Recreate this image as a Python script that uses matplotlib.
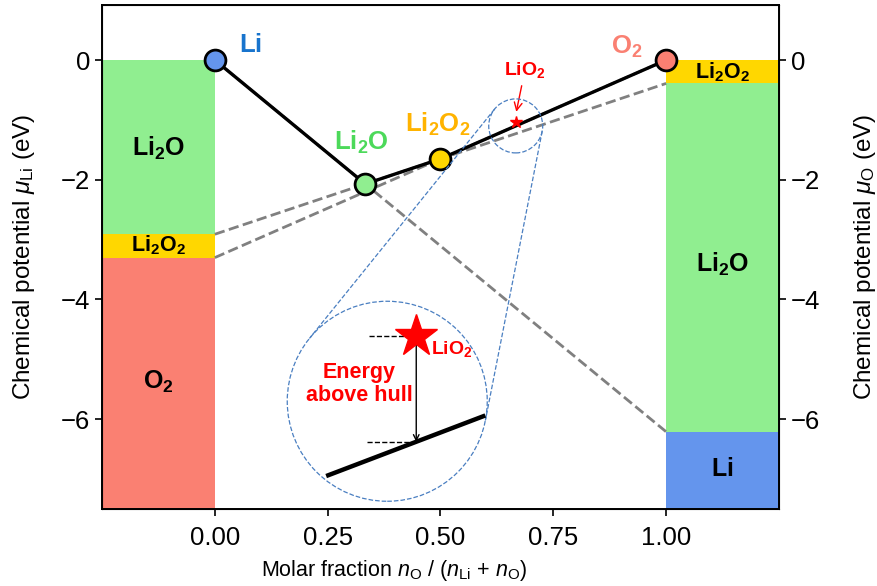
import numpy as np
import matplotlib
matplotlib.use('Agg')
import matplotlib.pyplot as plt
from matplotlib.patches import Circle

plt.rcParams['font.family'] = ['Liberation Sans', 'DejaVu Sans']
plt.rcParams['mathtext.fontset'] = 'custom'
plt.rcParams['mathtext.rm'] = 'Liberation Sans'
plt.rcParams['mathtext.it'] = 'Liberation Sans:italic'
plt.rcParams['mathtext.bf'] = 'Liberation Sans:bold'
plt.rcParams['axes.unicode_minus'] = True

# --- data: Li-O convex hull (formation energy, eV/atom) ---
phases = [r'$\mathbf{Li}$', r'$\mathbf{Li_2O}$', r'$\mathbf{Li_2O_2}$', r'$\mathbf{O_2}$']
x_O = [0.0, 1 / 3, 0.5, 1.0]
e_form = [0.0, -2.07, -1.65, 0.0]
marker_colors = ['#6495ED', '#90EE90', '#FFD700', '#FA8072']
label_colors = ['#1874CD', '#4CD95A', '#FFB300', '#FA8072']
label_xy = [(0.08, 0.25), (0.324, -1.38), (0.493, -1.08), (0.913, 0.22)]

# metastable phase
x_LiO2 = 2 / 3
e_LiO2 = -1.03

x_ticks = [0.0, 0.25, 0.5, 0.75, 1.0]
y_ticks = [0, -2, -4, -6]
y_bottom = -7.5
y_top = 0.92

# schematic zoom (unit-circle coords of the big circle)
inset_hull_u = [-0.59, 0.96]
inset_hull_v = [-0.74, -0.15]
inset_star = (0.29, 0.65)
inset_dash_start = [-0.18, -0.20]

W, H = 878, 586
fig = plt.figure(figsize=(W / 100, H / 100), dpi=100)
ax = fig.add_axes([102 / W, (H - 509) / H, 677 / W, 504 / H])
ax.set_xlim(-0.25, 1.25)
ax.set_ylim(y_bottom, y_top)

# facet lines of the hull, extended over 0..1
x_ext = np.array([0.0, 1.0])
mu_Li, mu_O = [], []
for i in range(len(x_O) - 1):
    k = (e_form[i + 1] - e_form[i]) / (x_O[i + 1] - x_O[i])
    y_ext = e_form[i] + k * (x_ext - x_O[i])
    mu_Li.append(y_ext[0])
    mu_O.append(y_ext[1])
    ax.plot(x_ext, y_ext, ls='--', color='#808080', lw=2, zorder=2)

# chemical potential bars
left_edges = [mu_Li[0], mu_Li[1], mu_Li[2], y_bottom]
left_idx = [1, 2, 3]
right_edges = [mu_O[2], mu_O[1], mu_O[0], y_bottom]
right_idx = [2, 1, 0]
left_label_y = [-1.47, -3.1, -5.38]
right_label_y = [-0.2, -3.42, -6.83]
for j in range(3):
    p = left_idx[j]
    ax.bar(-0.25, left_edges[j + 1] - left_edges[j], bottom=left_edges[j], width=0.25,
           align='edge', color=marker_colors[p], zorder=1)
    fs = 15.5 if p == 2 else 18
    ax.text(-0.125, left_label_y[j], phases[p], ha='center', va='center', fontsize=fs, zorder=3)
    p = right_idx[j]
    ax.bar(1.0, right_edges[j + 1] - right_edges[j], bottom=right_edges[j], width=0.25,
           align='edge', color=marker_colors[p], zorder=1)
    fs = 15.5 if p == 2 else 18
    ax.text(1.125, right_label_y[j], phases[p], ha='center', va='center', fontsize=fs, zorder=3)

# hull
ax.plot(x_O, e_form, color='black', lw=2.4, zorder=3)
for i in range(len(x_O)):
    ax.plot(x_O[i], e_form[i], 'o', ms=15, mfc=marker_colors[i], mec='black', mew=2, zorder=4)
    ax.text(label_xy[i][0], label_xy[i][1], phases[i], color=label_colors[i],
            fontsize=18.5, ha='center', va='center', zorder=4)

ax.plot(x_LiO2, e_LiO2, marker='*', color='red', ms=9, zorder=5)
ax.annotate(r'$\mathbf{LiO_2}$', xy=(x_LiO2, e_LiO2 + 0.12), xytext=(0.687, -0.17),
            color='red', fontsize=14, ha='center', va='center',
            arrowprops=dict(arrowstyle='->', color='red', lw=1))

ax.set_xticks(x_ticks)
ax.set_xticklabels([f'{t:.2f}' for t in x_ticks])
ax.set_yticks(y_ticks)
ax.tick_params(direction='out', length=5, width=1.2, labelsize=18.5)
ax.tick_params(axis='x', pad=7)
for s in ax.spines.values():
    s.set_linewidth(1.4)
ax.set_xlabel(r'Molar fraction $n_\mathrm{O}$ / ($n_\mathrm{Li}$ + $n_\mathrm{O}$)', fontsize=15.5)
ax.xaxis.set_label_coords(0.431, -0.097)
ax.set_ylabel(r'Chemical potential $\mu_\mathrm{Li}$ (eV)', fontsize=17.5)
ax.yaxis.set_label_coords(-0.096, 0.5)

ax2 = ax.twinx()
ax2.set_ylim(y_bottom, y_top)
ax2.set_yticks(y_ticks)
ax2.tick_params(direction='out', length=5, width=1.2, labelsize=18.5)
ax2.set_ylabel(r'Chemical potential $\mu_\mathrm{O}$ (eV)', fontsize=17.5)
ax2.yaxis.set_label_coords(1.108, 0.5)

# overlay in pixel coordinates for the zoom circles
ov = fig.add_axes([0, 0, 1, 1], zorder=10)
ov.set_xlim(0, W)
ov.set_ylim(0, H)
ov.set_axis_off()
ov.patch.set_alpha(0)

hull_at = np.interp(x_LiO2, x_O, e_form)
c1 = np.array(ax.transData.transform((x_LiO2, hull_at)))
r1 = 27
c2 = np.array(ax.transData.transform((0.382, -5.7)))
r2 = 100
blue = '#4A7FC1'
ov.add_patch(Circle(c1, r1, fill=False, ec=blue, ls='--', lw=0.9))
ov.add_patch(Circle(c2, r2, fill=False, ec=blue, ls='--', lw=0.9))
d = c1 - c2
phi = np.arctan2(d[1], d[0])
a = np.arccos((r1 - r2) / np.hypot(*d))
for th in (phi + a, phi - a):
    n = np.array([np.cos(th), np.sin(th)])
    t1 = c1 - r1 * n
    t2 = c2 - r2 * n
    ov.plot([t1[0], t2[0]], [t1[1], t2[1]], ls='--', color=blue, lw=0.9)

def to_px(u, v):
    return c2[0] + r2 * np.asarray(u), c2[1] + r2 * np.asarray(v)

hx, hy = to_px(inset_hull_u, inset_hull_v)
ov.plot(hx, hy, color='black', lw=3.2)
su, sv = inset_star
v_low = np.interp(su, inset_hull_u, inset_hull_v)
sx, sy = to_px(su, sv)
_, ly = to_px(su, v_low)
ov.plot(sx, sy, marker='*', color='red', ms=32, zorder=11)
x_hi0, _ = to_px(inset_dash_start[0], 0)
x_lo0, _ = to_px(inset_dash_start[1], 0)
ov.plot([x_hi0, sx], [sy, sy], ls='--', color='black', lw=1)
ov.plot([x_lo0, sx], [ly, ly], ls='--', color='black', lw=1)
ov.annotate('', xy=(sx, sy), xytext=(sx, ly),
            arrowprops=dict(arrowstyle='<->', color='black', lw=1, shrinkA=0, shrinkB=0))
tx, ty = to_px(-0.28, 0.17)
ov.text(tx, ty, 'Energy\nabove hull', color='red', fontsize=15.5, fontweight='bold',
        ha='center', va='center', linespacing=1.1)
lx, lyy = to_px(0.44, 0.52)
ov.text(lx, lyy, r'$\mathbf{LiO_2}$', color='red', fontsize=14, ha='left', va='center', zorder=12)

fig.savefig('out.png', dpi=100)
